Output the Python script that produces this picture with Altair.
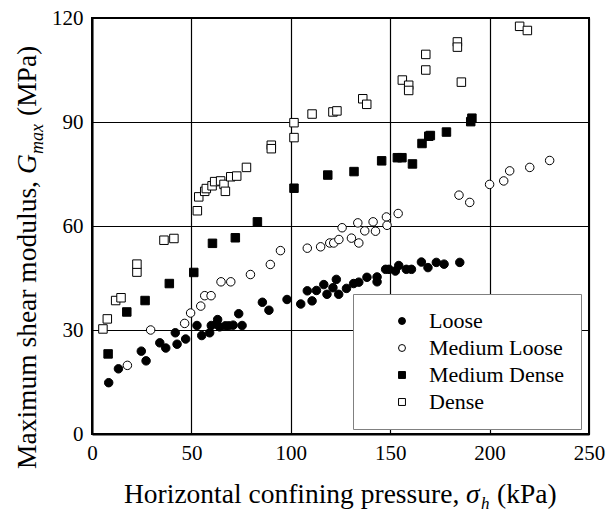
import altair as alt
import pandas as pd

# ---------------- data ----------------
categories = ["Loose", "Medium Loose", "Medium Dense", "Dense"]

loose_x = [8.4, 13.3, 24.8, 27.2, 34.1, 37.1, 41.9, 42.8, 47.1, 52.8, 55.2, 59.2, 60.0, 62.6,
           63.2, 64.2, 67.1, 68.8, 71.0, 73.8, 75.5, 85.7, 89.0, 98.1, 105.0, 108.3, 110.7,
           112.9, 116.6, 118.2, 121.2, 122.9, 124.1, 128.0, 131.6, 134.2, 138.3, 143.4, 143.4,
           147.7, 149.4, 152.6, 154.3, 158.1, 160.7, 165.7, 169.0, 173.2, 177.1, 185.0]
loose_y = [14.8, 18.8, 23.9, 21.1, 26.3, 24.8, 29.2, 25.9, 27.4, 31.3, 28.4, 29.2, 31.3, 31.7,
           33.0, 30.9, 31.2, 31.2, 31.4, 34.7, 31.3, 38.0, 35.7, 38.8, 37.5, 41.3, 38.4,
           41.4, 43.1, 40.3, 42.2, 44.6, 40.3, 42.0, 43.4, 43.8, 45.2, 45.3, 43.9,
           47.5, 47.5, 47.0, 48.6, 47.5, 47.5, 49.6, 48.0, 49.5, 49.0, 49.5]

mloose_x = [17.8, 29.5, 46.6, 49.6, 54.7, 56.7, 59.9, 64.9, 69.8, 79.7, 89.7, 94.8, 108.3,
            115.0, 119.6, 121.6, 124.2, 125.8, 130.5, 134.2, 133.7, 137.2, 141.4, 142.6,
            148.1, 148.4, 154.0, 184.6, 190.0, 200.0, 207.1, 210.1, 220.2, 230.2]
mloose_y = [19.8, 30.0, 31.9, 34.9, 36.9, 39.9, 39.9, 43.9, 43.9, 46.0, 48.9, 52.9, 53.6,
            54.0, 55.1, 55.1, 56.1, 59.5, 56.5, 55.1, 60.9, 58.6, 61.2, 58.5,
            62.6, 60.2, 63.6, 68.9, 66.8, 72.0, 73.0, 75.9, 76.9, 78.9]

mdense_x = [8.1, 17.5, 26.7, 38.9, 51.2, 60.6, 72.1, 83.2, 101.6, 118.6, 131.8, 145.7, 153.6,
            155.9, 161.2, 166.0, 169.4, 170.2, 178.3, 190.5, 191.1]
mdense_y = [23.1, 35.2, 38.5, 43.4, 46.6, 55.0, 56.6, 61.2, 70.9, 74.7, 75.7, 78.8, 79.7,
            79.7, 77.9, 83.8, 85.9, 86.1, 87.1, 90.1, 91.1]

dense_x = [5.5, 7.7, 11.9, 14.6, 22.6, 22.6, 36.2, 41.2, 53.0, 53.7, 56.7, 57.5, 60.4, 61.7,
           64.7, 66.4, 67.1, 69.8, 72.8, 77.7, 90.2, 90.2, 101.6, 101.6, 110.7, 121.2, 123.2,
           136.2, 138.2, 156.1, 159.3, 159.3, 167.9, 167.9, 183.8, 183.8, 185.8, 215.1, 219.0]
dense_y = [30.3, 33.2, 38.5, 39.3, 46.7, 49.0, 55.9, 56.4, 64.4, 68.4, 70.0, 70.8, 71.6, 72.8,
           73.0, 72.0, 70.0, 74.2, 74.4, 76.9, 83.3, 82.3, 89.8, 85.5, 92.3, 92.9, 93.2,
           96.7, 95.1, 102.1, 100.6, 99.1, 109.5, 105.0, 113.1, 111.6, 101.5, 117.6, 116.4]

x_ticks = [0, 50, 100, 150, 200, 250]
y_ticks = [0, 30, 60, 90, 120]

x_title_parts = ["Horizontal confining pressure,", "σ", "h", "(kPa)"]
y_title_parts = ["Maximum shear modulus,", "G", "max", "(MPa)"]

# ---------------- build ----------------
rows = []
for cat, xs, ys in zip(categories,
                       [loose_x, mloose_x, mdense_x, dense_x],
                       [loose_y, mloose_y, mdense_y, dense_y]):
    for xv, yv in zip(xs, ys):
        rows.append({"p": xv, "g": yv, "Density": cat})
df = pd.DataFrame(rows)

FONT = "Liberation Serif"
W, H = 497, 416

legend = alt.Legend(
    title=None, orient="none", legendX=261, legendY=276,
    fillColor="white", strokeColor="#808080",
    padding=16, labelFont=FONT, labelFontSize=22, labelColor="black",
    symbolSize=48, symbolStrokeWidth=1, symbolStrokeColor="black",
    symbolOffset=22, labelOffset=16, rowPadding=5,
)

points = alt.Chart(df).mark_point(
    filled=True, opacity=1, strokeWidth=1, size=72
).encode(
    x=alt.X("p:Q", scale=alt.Scale(domain=[0, 250], nice=False),
            axis=alt.Axis(values=x_ticks, title=None, labelFlush=False)),
    y=alt.Y("g:Q", scale=alt.Scale(domain=[0, 120], nice=False),
            axis=alt.Axis(values=y_ticks, title=None, labelFlush=False)),
    shape=alt.Shape("Density:N", sort=categories,
                    scale=alt.Scale(domain=categories,
                                    range=["circle", "circle", "square", "square"]),
                    legend=legend),
    fill=alt.Fill("Density:N", sort=categories,
                  scale=alt.Scale(domain=categories,
                                  range=["black", "white", "black", "white"]),
                  legend=legend),
    stroke=alt.Stroke("Density:N", sort=categories,
                      scale=alt.Scale(domain=categories,
                                      range=["black", "black", "black", "black"]),
                      legend=legend),
)


def piece(txt, x, y, size, italic=False, angle=0):
    kw = dict(font=FONT, fontSize=size, align="left", baseline="alphabetic",
              color="black", angle=angle)
    if italic:
        kw["fontStyle"] = "italic"
    return alt.Chart(pd.DataFrame({"t": [txt]})).mark_text(**kw).encode(
        text="t:N", x=alt.value(x), y=alt.value(y))


TS = 27.5
xt = [
    piece(x_title_parts[0], 32, 485, TS),
    piece(x_title_parts[1], 374, 485, TS, italic=True),
    piece(x_title_parts[2], 389, 491, 17, italic=True),
    piece(x_title_parts[3], 405, 485, TS),
]
yt = [
    piece(y_title_parts[0], -56, 451, TS, angle=270),
    piece(y_title_parts[1], -56, 156, TS, italic=True, angle=270),
    piece(y_title_parts[2], -49, 136, 18, italic=True, angle=270),
    piece(y_title_parts[3], -56, 98, TS, angle=270),
]

chart = alt.layer(points, *xt, *yt).properties(
    width=W, height=H,
    autosize=alt.AutoSizeParams(type="none"),
    padding={"left": 92, "top": 18, "right": 18, "bottom": 79},
).configure_view(
    stroke="black", strokeWidth=2
).configure_axis(
    domainColor="black", domainWidth=2,
    grid=True, gridColor="black", gridWidth=1.2, gridOpacity=1,
    ticks=False, labelFont=FONT, labelFontSize=21, labelColor="black",
    labelPadding=9,
).configure_axisX(labelPadding=8)

chart.save("out.html", embed_options={"renderer": "svg", "actions": False})
